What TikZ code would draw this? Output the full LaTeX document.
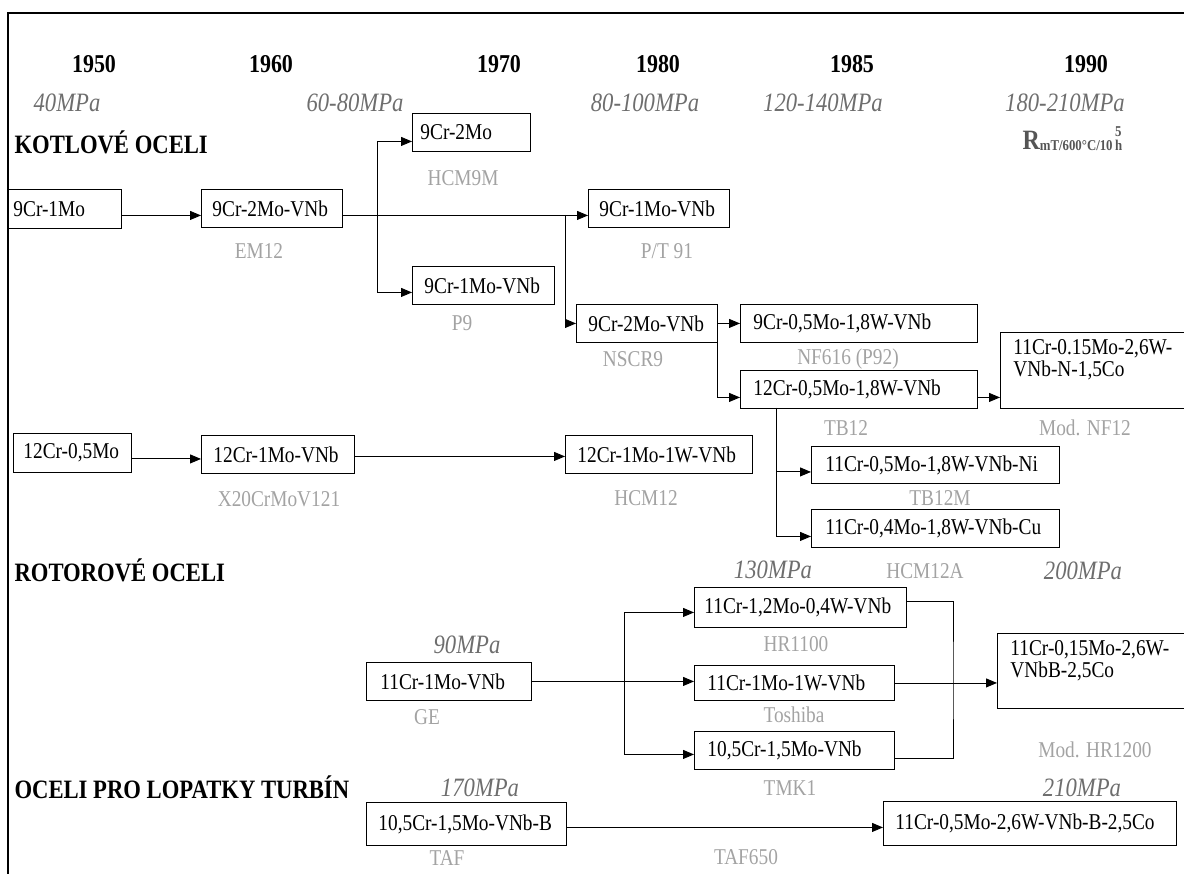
\documentclass[tikz,border=0pt]{standalone}
\usepackage{fontspec}
\setmainfont{Liberation Serif}[FakeStretch=0.855]
\usetikzlibrary{arrows.meta}

\definecolor{mpagray}{HTML}{6E6E6E}
\definecolor{namegray}{HTML}{A3A3A3}
\definecolor{rmgray}{HTML}{555555}

\tikzset{
  alloy/.style={draw, line width=0.9pt, anchor=north west, inner ysep=0pt,
    font=\fontsize{22.6}{22}\selectfont},
  grade/.style={text=namegray, font=\fontsize{22.6}{22}\selectfont},
  stress/.style={text=mpagray, font=\fontsize{26.5}{28}\selectfont\itshape},
  year/.style={font=\fontsize{25.7}{28}\selectfont\bfseries},
  group/.style={anchor=west, font=\fontsize{26.5}{28}\selectfont\bfseries},
  flow/.style={line width=0.9pt, -{Triangle[length=11pt,width=9pt]}},
  link/.style={line width=0.9pt}
}

\begin{document}
\begin{tikzpicture}[x=1pt,y=-1pt]

      \useasboundingbox (0,0) rectangle (1184,874);
      \draw[line width=1.6pt] (8,880) -- (8,13) -- (1190,13);

      \begin{scope}[every node/.style={year}]
        \node (y1950) at (94,64)   {1950};
        \node (y1960) at (271,64)  {1960};
        \node (y1970) at (499,64)  {1970};
        \node (y1980) at (658,64)  {1980};
        \node (y1985) at (852,64)  {1985};
        \node (y1990) at (1086,64) {1990};
      \end{scope}

      \begin{scope}[every node/.style={stress}]
        \node (s1950) at (67,103)   {40MPa};
        \node (s1960) at (355,103)  {60-80MPa};
        \node (s1980) at (645,103)  {80-100MPa};
        \node (s1985) at (823,103)  {120-140MPa};
        \node (s1990) at (1065,103) {180-210MPa};
        \node (shr1100) at (773,570) {130MPa};
        \node (shr1200) at (1083,571) {200MPa};
        \node (sge) at (467,645)     {90MPa};
        \node (staf) at (480,788)    {170MPa};
        \node (staf650) at (1082,788) {210MPa};
      \end{scope}

      \node[anchor=base west, text=rmgray, font=\bfseries] (rmt) at (1019,150)
        {\fontsize{28}{28}\selectfont R\raisebox{-1pt}{\fontsize{15}{15}\selectfont mT/600°C/10\,\rlap{\raisebox{14pt}{5}}h}};

      \node[group] (kotel) at (11,142) {KOTLOVÉ OCELI};
      \node[group] (rotor) at (11,570) {ROTOROVÉ OCELI};
      \node[group] (lopat) at (11,787) {OCELI PRO LOPATKY TURBÍN};

      % kotlove oceli
      \node[alloy, inner xsep=5pt,  text width=103pt, minimum height=39pt] (b9cr1mo) at (8,189)  {9Cr-1Mo};
      \node[alloy, inner xsep=11pt, text width=119pt, minimum height=38pt] (em12)    at (201,189) {9Cr-2Mo-VNb};
      \node[alloy, inner xsep=8pt,  text width=102pt, minimum height=38pt] (hcm9m)   at (412,113) {9Cr-2Mo};
      \node[alloy, inner xsep=12pt, text width=118pt, minimum height=38pt] (p9)      at (412,266) {9Cr-1Mo-VNb};
      \node[alloy, inner xsep=11pt, text width=119pt, minimum height=38pt] (p91)     at (588,189) {9Cr-1Mo-VNb};
      \node[alloy, inner xsep=12pt, text width=117pt, minimum height=38pt] (nscr9)   at (576,304) {9Cr-2Mo-VNb};
      \node[alloy, inner xsep=13pt, text width=211pt, minimum height=38pt] (nf616)   at (740,304) {9Cr-0,5Mo-1,8W-VNb};
      \node[alloy, inner xsep=13pt, text width=211pt, minimum height=38pt] (tb12)    at (740,370) {12Cr-0,5Mo-1,8W-VNb};
      \node[alloy, inner xsep=13pt, inner ysep=7pt] (nf12) at (1000,332)
        {\parbox[t][62pt][t]{164pt}{\raggedright 11Cr-0.15Mo-2,6W-\\VNb-N-1,5Co}};
      \node[alloy, inner xsep=14pt, text width=220pt, minimum height=37pt] (tb12m)   at (811,446) {11Cr-0,5Mo-1,8W-VNb-Ni};
      \node[alloy, inner xsep=14pt, text width=220pt, minimum height=38pt] (tb12cu)  at (811,509) {11Cr-0,4Mo-1,8W-VNb-Cu};
      \node[alloy, inner xsep=10pt, text width=98pt,  minimum height=39pt] (b12cr)   at (13,433)  {12Cr-0,5Mo};
      \node[alloy, inner xsep=12pt, text width=129pt, minimum height=38pt] (x20)     at (201,435) {12Cr-1Mo-VNb};
      \node[alloy, inner xsep=12pt, text width=163pt, minimum height=38pt] (hcm12)   at (565,435) {12Cr-1Mo-1W-VNb};

      % rotorove oceli
      \node[alloy, inner xsep=14pt, text width=137pt, minimum height=38pt] (ge)      at (366,662) {11Cr-1Mo-VNb};
      \node[alloy, inner xsep=10pt, text width=192pt, minimum height=40pt] (hr1100)  at (694,587) {11Cr-1,2Mo-0,4W-VNb};
      \node[alloy, inner xsep=13pt, text width=174pt, minimum height=35pt] (toshiba) at (694,665) {11Cr-1Mo-1W-VNb};
      \node[alloy, inner xsep=13pt, text width=174pt, minimum height=38pt] (tmk1)    at (694,731) {10,5Cr-1,5Mo-VNb};
      \node[alloy, inner xsep=13pt, inner ysep=7pt] (hr1200) at (997,633)
        {\parbox[t][61pt][t]{167pt}{\raggedright 11Cr-0,15Mo-2,6W-\\VNbB-2,5Co}};

      % lopatky
      \node[alloy, inner xsep=12pt, text width=176pt, minimum height=43pt] (taf)     at (366,802) {10,5Cr-1,5Mo-VNb-B};
      \node[alloy, inner xsep=12pt, text width=269pt, minimum height=44pt] (taf650)  at (883,801) {11Cr-0,5Mo-2,6W-VNb-B-2,5Co};

      \begin{scope}[every node/.style={grade}]
        \node (lhcm9m)   at (463,178)  {HCM9M};
        \node (lem12)    at (259,251)  {EM12};
        \node (lp91)     at (667,251)  {P/T 91};
        \node (lp9)      at (462,323)  {P9};
        \node (lnscr9)   at (633,359)  {NSCR9};
        \node (lnf616)   at (848,359)  {NF616 (P92)};
        \node (ltb12)    at (846,428)  {TB12};
        \node (lnf12)    at (1085,428) {Mod. NF12};
        \node (lx20)     at (279,499)  {X20CrMoV121};
        \node (lhcm12)   at (646,498)  {HCM12};
        \node (ltb12m)   at (940,498)  {TB12M};
        \node (lhcm12a)  at (925,571)  {HCM12A};
        \node (lhr1100)  at (796,644)  {HR1100};
        \node (lge)      at (427,717)  {GE};
        \node (ltoshiba) at (794,715)  {Toshiba};
        \node (ltmk1)    at (790,788)  {TMK1};
        \node (lhr1200)  at (1095,750) {Mod. HR1200};
        \node (ltaf)     at (447,858)  {TAF};
        \node (ltaf650)  at (746,857)  {TAF650};
      \end{scope}

      \coordinate (j1) at (377,215);
      \coordinate (j2) at (565,215);
      \coordinate (j3) at (776,408);
      \coordinate (j4) at (624,681);
      \coordinate (j5) at (953,681);

      \draw[flow] ([yshift=-6.5pt]b9cr1mo.east) -- ([yshift=-6.5pt]b9cr1mo.east -| em12.west);
      \draw[flow] ([yshift=-7pt]em12.east) -- ([yshift=-7pt]em12.east -| p91.west);
      \draw[flow] (j1) |- ([yshift=-9pt]hcm9m.west);
      \draw[flow] (j1) |- ([yshift=-7pt]p9.west);
      \draw[flow] (j2) |- (nscr9.west);
      \draw[flow] (nscr9) -- (nf616);
      \draw[flow] (nscr9.south east) |- ([yshift=-8pt]tb12.west);
      \draw[flow] ([yshift=-8pt]tb12.east) -- ([yshift=-8pt]tb12.east -| nf12.west);
      \draw[flow] (j3) |- ([yshift=-7pt]tb12m.west);
      \draw[flow] (j3) |- ([yshift=-8pt]tb12cu.west);
      \draw[flow] ([yshift=-6pt]b12cr.east) -- ([yshift=-6pt]b12cr.east -| x20.west);
      \draw[flow] ([yshift=-2pt]x20.east) -- ([yshift=-2pt]x20.east -| hcm12.west);

      \draw[flow] (ge.east) -- (ge.east -| toshiba.west);
      \draw[flow] (j4) |- ([yshift=-5pt]hr1100.west);
      \draw[flow] (j4) |- ([yshift=-4pt]tmk1.west);
      \draw[link] ([yshift=6pt]hr1100.east) -| (j5) |- ([yshift=-8pt]tmk1.east);
      \draw[flow] (toshiba.east) -- (toshiba.east -| hr1200.west);
      \draw[flow] ([yshift=-3.5pt]taf.east) -- ([yshift=-3.5pt]taf.east -| taf650.west);

    \end{tikzpicture}
\end{document}
